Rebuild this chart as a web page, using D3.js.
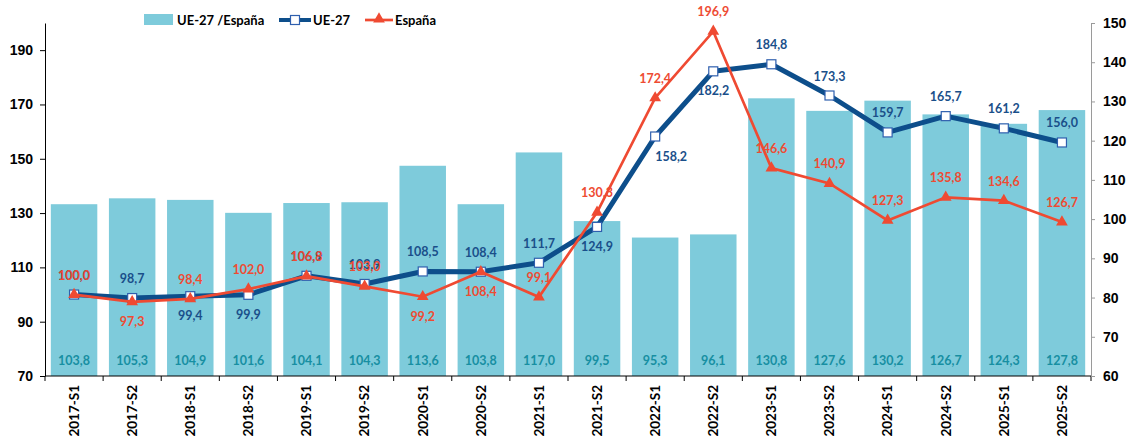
<!DOCTYPE html>
<html>
<head>
<meta charset="utf-8">
<script src="https://cdn.jsdelivr.net/npm/d3@7"></script>
<style>
  body { margin: 0; background: #fff; }
  svg { display: block; font-family: Lato, "Open Sans", sans-serif; }
  .lbl { font-weight: bold; font-size: 12.5px; text-anchor: middle; }
  .axis text { font-weight: bold; font-size: 14px; fill: #000; }
</style>
</head>
<body>
<div id="chart-area"></div>
<script>
// data
var categories = ['2017-S1', '2017-S2', '2018-S1', '2018-S2', '2019-S1', '2019-S2',
  '2020-S1', '2020-S2', '2021-S1', '2021-S2', '2022-S1', '2022-S2',
  '2023-S1', '2023-S2', '2024-S1', '2024-S2', '2025-S1', '2025-S2'];
var ratio = [103.8, 105.3, 104.9, 101.6, 104.1, 104.3, 113.6, 103.8, 117.0,
  99.5, 95.3, 96.1, 130.8, 127.6, 130.2, 126.7, 124.3, 127.8];
var ue27 = [100.0, 98.7, 99.4, 99.9, 106.9, 103.9, 108.5, 108.4, 111.7,
  124.9, 158.2, 182.2, 184.8, 173.3, 159.7, 165.7, 161.2, 156.0];
var espana = [100.0, 97.3, 98.4, 102.0, 106.8, 103.0, 99.2, 108.4, 99.1,
  130.3, 172.4, 196.9, 146.6, 140.9, 127.3, 135.8, 134.6, 126.7];
var leftTicks = [70, 90, 110, 130, 150, 170, 190];
var rightTicks = [60, 70, 80, 90, 100, 110, 120, 130, 140, 150];

// where each data label sits: t = above, b = below, br = below and to the right
var ueLabelPos = ['t','t','b','b','t','t','t','t','t','b','br','b','t','t','t','t','t','t'];
var esLabelPos = ['t','b','t','t','t','t','b','b','t','t','t','t','t','t','t','t','t','t'];

var W = 1133, H = 443;
var plotLeft = 45, plotRight = 1091, plotTop = 23, plotBottom = 376;

var svg = d3.select('#chart-area').append('svg')
  .attr('width', W)
  .attr('height', H);

var x = d3.scaleBand().domain(categories).range([plotLeft, plotRight])
  .paddingInner(0.2).paddingOuter(0.1);
var yL = d3.scaleLinear().domain([70, 200]).range([plotBottom, plotTop]);
var yR = d3.scaleLinear().domain([60, 150]).range([plotBottom, plotTop]);

var fmt = function(v) { return d3.format('.1f')(v).replace('.', ','); };
var cx = function(i) { return x(categories[i]) + x.bandwidth() / 2; };

// bars (right axis)
svg.append('g').selectAll('rect')
  .data(ratio)
  .enter().append('rect')
  .attr('x', (d, i) => x(categories[i]))
  .attr('y', d => yR(d))
  .attr('width', x.bandwidth())
  .attr('height', d => plotBottom - yR(d))
  .attr('fill', '#7ecbdb');

svg.append('g').selectAll('text')
  .data(ratio)
  .enter().append('text')
  .attr('class', 'lbl')
  .attr('x', (d, i) => cx(i))
  .attr('y', 365)
  .attr('fill', '#178fa2')
  .text(d => fmt(d));

// axes
var xAxis = svg.append('g')
  .attr('class', 'axis')
  .attr('transform', 'translate(0,' + plotBottom + ')');
xAxis.append('line')
  .attr('x1', plotLeft).attr('x2', plotRight)
  .attr('stroke', '#000');
var bounds = d3.range(categories.length + 1).map(i => plotLeft + i * x.step());
xAxis.selectAll('.tk')
  .data(bounds)
  .enter().append('line')
  .attr('x1', d => d).attr('x2', d => d)
  .attr('y1', 0).attr('y2', 5)
  .attr('stroke', '#000');
xAxis.selectAll('.cat')
  .data(categories)
  .enter().append('text')
  .attr('transform', (d, i) => 'translate(' + cx(i) + ',9) rotate(-90)')
  .attr('dy', '0.36em')
  .attr('text-anchor', 'end')
  .style('font-size', '13.5px')
  .text(d => d);

var yAxisL = svg.append('g')
  .attr('class', 'axis')
  .attr('transform', 'translate(' + plotLeft + ',0)')
  .call(d3.axisLeft(yL).tickValues(leftTicks).tickSize(5).tickSizeOuter(0).tickPadding(7));
yAxisL.select('.domain').attr('stroke', '#000');

var yAxisR = svg.append('g')
  .attr('class', 'axis')
  .attr('transform', 'translate(' + plotRight + ',0)')
  .call(d3.axisRight(yR).tickValues(rightTicks).tickSize(4).tickSizeOuter(0).tickPadding(8));
yAxisR.select('.domain').attr('stroke', '#9a9a9a');
yAxisR.selectAll('.tick line').attr('stroke', '#9a9a9a');

// lines (left axis)
var line = d3.line()
  .x((d, i) => cx(i))
  .y(d => yL(d));

svg.append('path')
  .attr('fill', 'none')
  .attr('stroke', '#0d4e8b')
  .attr('stroke-width', 5)
  .attr('stroke-linejoin', 'round')
  .attr('d', line(ue27));
svg.append('g').selectAll('rect')
  .data(ue27)
  .enter().append('rect')
  .attr('x', (d, i) => cx(i) - 4.5)
  .attr('y', d => yL(d) - 4.5)
  .attr('width', 9)
  .attr('height', 9)
  .attr('fill', '#fff')
  .attr('stroke', '#2f5fae')
  .attr('stroke-width', 1.2);

svg.append('path')
  .attr('fill', 'none')
  .attr('stroke', '#ef4a32')
  .attr('stroke-width', 2.7)
  .attr('d', line(espana));
var tri = d3.symbol().type(d3.symbolTriangle).size(60);
svg.append('g').selectAll('path')
  .data(espana)
  .enter().append('path')
  .attr('d', tri)
  .attr('transform', (d, i) => 'translate(' + cx(i) + ',' + yL(d) + ')')
  .attr('fill', '#ef4a32');

// data labels
function labels(vals, pos, color) {
  svg.append('g').selectAll('text')
    .data(vals)
    .enter().append('text')
    .attr('class', 'lbl')
    .attr('x', (d, i) => cx(i) + (pos[i] == 'br' ? 16 : 0))
    .attr('y', (d, i) => yL(d) + (pos[i] == 't' ? -15 : 24))
    .attr('fill', color)
    .text(d => fmt(d));
}
labels(ue27, ueLabelPos, '#1a4f8a');
labels(espana, esLabelPos, '#ee4b33');

// legend
var legend = svg.append('g').style('font-weight', 'bold').style('font-size', '13px');
legend.append('rect')
  .attr('x', 144).attr('y', 14).attr('width', 29).attr('height', 11)
  .attr('fill', '#7ecbdb');
legend.append('text').attr('x', 177).attr('y', 24.5).text('UE-27 /España');
legend.append('line')
  .attr('x1', 279).attr('x2', 311).attr('y1', 20).attr('y2', 20)
  .attr('stroke', '#0d4e8b').attr('stroke-width', 4);
legend.append('rect')
  .attr('x', 290.5).attr('y', 15.5).attr('width', 9).attr('height', 9)
  .attr('fill', '#fff').attr('stroke', '#2f5fae').attr('stroke-width', 1.2);
legend.append('text').attr('x', 313).attr('y', 24.5).text('UE-27');
legend.append('line')
  .attr('x1', 365).attr('x2', 393).attr('y1', 20).attr('y2', 20)
  .attr('stroke', '#ef4a32').attr('stroke-width', 2.7);
legend.append('path')
  .attr('d', tri)
  .attr('transform', 'translate(379,19)')
  .attr('fill', '#ef4a32');
legend.append('text').attr('x', 395).attr('y', 24.5).text('España');
</script>
</body>
</html>
